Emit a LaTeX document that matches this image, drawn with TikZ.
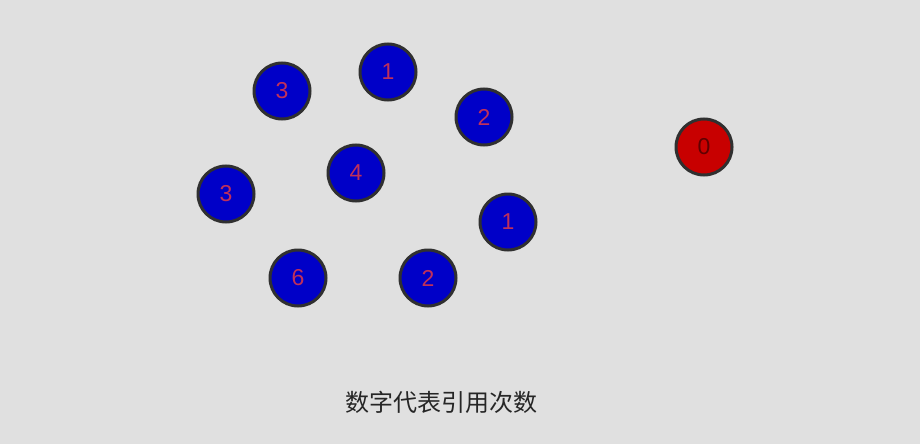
\documentclass[tikz,border=0pt]{standalone}
\usepackage{fontspec}
\setmainfont{Liberation Sans}
\newfontfamily\cjk{Noto Sans CJK SC}
\definecolor{bg}{HTML}{E0E0E0}
\definecolor{ballblue}{HTML}{0000C8}
\definecolor{ballred}{HTML}{C80000}
\definecolor{numred}{HTML}{C0305A}
\definecolor{numdark}{HTML}{600000}
\definecolor{rim}{HTML}{303030}
\tikzset{
  ball/.style={circle, draw=rim, line width=3pt, minimum size=56pt, inner sep=0pt,
    fill=ballblue, text=numred, font=\fontsize{23}{23}\selectfont},
  redball/.style={ball, fill=ballred, text=numdark}
}
\begin{document}
\begin{tikzpicture}[x=1pt,y=-1pt]
\fill[bg] (0,0) rectangle (920,444);
\useasboundingbox (0,0) rectangle (920,444);
\node[ball] (a) at (282,91) {3};
\node[ball] (b) at (388,72) {1};
\node[ball] (c) at (484,117) {2};
\node[redball] (z) at (704,147) {0};
\node[ball] (d) at (226,194) {3};
\node[ball] (e) at (356,173) {4};
\node[ball] (f) at (508,222) {1};
\node[ball] (g) at (298,278) {6};
\node[ball] (h) at (428,278) {2};
\node[text=black!85, font=\cjk\fontsize{24}{24}\selectfont] (t) at (441,402) {数字代表引用次数};
\end{tikzpicture}
\end{document}
